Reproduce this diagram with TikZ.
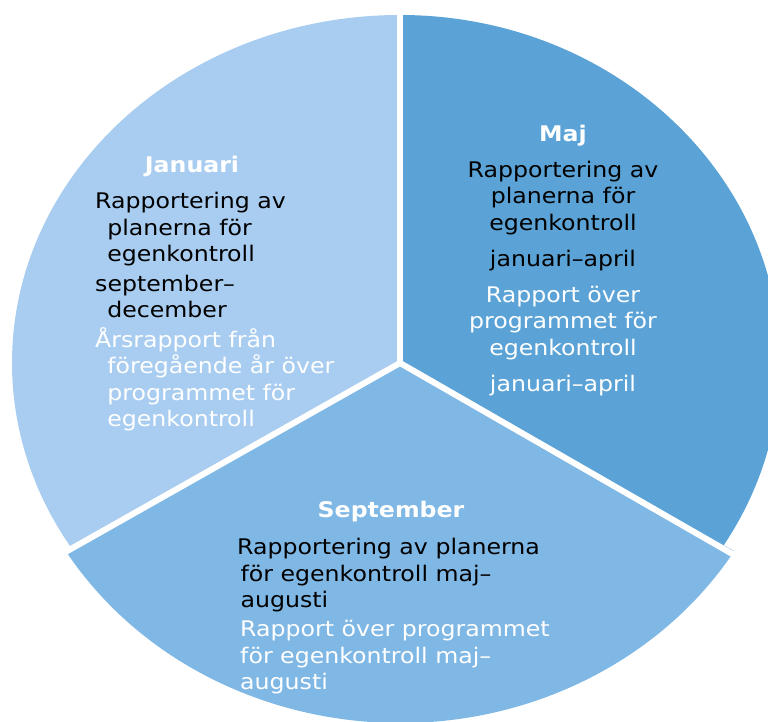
\documentclass[tikz,border=0pt]{standalone}
\usepackage{fontspec}
\setmainfont{DejaVu Sans}
\usepackage{xcolor}
\usepackage{tikz}
\definecolor{janblue}{RGB}{169,205,240}
\definecolor{majblue}{RGB}{91,163,214}
\definecolor{sepblue}{RGB}{127,183,229}

\begin{document}
\begin{tikzpicture}[x=1pt, y=1pt]
    % Define styles
    \tikzstyle{month}=[font=\fontsize{21.5}{26.5}\selectfont\bfseries, text=white, anchor=base, inner sep=0pt, xscale=1.1]
    \tikzstyle{para}=[font=\fontsize{21.5}{26.5}\selectfont, inner sep=0pt, xscale=1.1]
    \tikzstyle{separator}=[draw=white, line width=6pt]

    \useasboundingbox (0,0) rectangle (768,722);
    \clip (0,0) rectangle (768,722);

    % Centre and ends of the separators
    \coordinate (ctr) at (400,359);
    \coordinate (topend) at (400,722);
    \coordinate (leftend) at (39,155);
    \coordinate (rightend) at (755,155);

    % Draw the slices
    \fill[janblue] (ctr) -- ++(0,348) arc[start angle=90, end angle=212.1, x radius=388, y radius=348] -- cycle;
    \fill[majblue] (ctr) -- ++(0,348) arc[start angle=90, end angle=-32.1, x radius=380, y radius=348] -- cycle;
    \fill[sepblue] (ctr) -- ++(-334.2,-188.1) arc[start angle=211.5, end angle=328.5, x radius=392, y radius=360] -- cycle;

    % White gaps between the slices
    \foreach \e in {topend,leftend,rightend}
        \draw[separator] (ctr) -- (\e);

    % Januari (base = last line of each block)
    \node[month] (jan) at (192,549) {Januari};
    \node[para, anchor=base west, align=left] (janreport) at (95,404)
        {Rapportering av\\\hspace*{11pt}planerna för\\\hspace*{11pt}egenkontroll\\[3pt]september–\\\hspace*{11pt}december};
    \node[para, anchor=base west, align=left, text=white] (janannual) at (95,295)
        {Årsrapport från\\\hspace*{11pt}föregående år över\\\hspace*{11pt}programmet för\\\hspace*{11pt}egenkontroll};

    % Maj
    \node[month] (maj) at (563,580) {Maj};
    \node[para, anchor=base, align=center] (majreport) at (563,455)
        {Rapportering av\\planerna för\\egenkontroll\\[10pt]januari–april};
    \node[para, anchor=base, align=center, text=white] (majprogram) at (563,330)
        {Rapport över\\programmet för\\egenkontroll\\[10pt]januari–april};

    % September
    \node[month] (sep) at (391,204) {September};
    \node[para, anchor=base west, align=left] (sepreport) at (237,114)
        {Rapportering av planerna\\\hspace*{3pt}för egenkontroll maj–\\\hspace*{3pt}augusti};
    \node[para, anchor=base west, align=left, text=white] (sepprogram) at (240,32)
        {Rapport över programmet\\för egenkontroll maj–\\augusti};

\end{tikzpicture}
\end{document}
